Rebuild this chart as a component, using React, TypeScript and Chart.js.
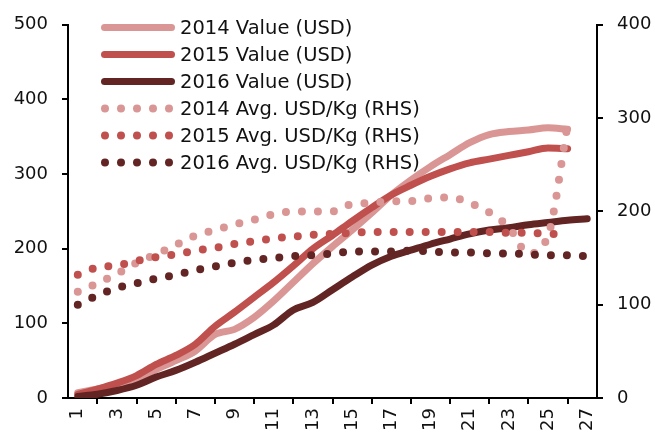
import React, { useEffect, useRef } from 'react';
import { Chart, registerables } from 'chart.js';

Chart.register(...registerables);

const categories = ['1','2','3','4','5','6','7','8','9','10','11','12','13','14','15','16','17','18','19','20','21','22','23','24','25','26','27'];

const value2014 = [7, 12, 18, 25, 38, 50, 63, 85, 92, 108, 130, 155, 180, 203, 225, 248, 272, 292, 310, 326, 342, 353, 357, 359, 362, 360];
const value2015 = [5, 12, 20, 30, 45, 57, 72, 96, 115, 135, 155, 177, 200, 218, 237, 255, 272, 285, 297, 307, 315, 320, 325, 330, 335, 334];
const value2016 = [2, 5, 10, 17, 28, 37, 48, 60, 72, 85, 98, 118, 128, 145, 162, 178, 190, 198, 206, 213, 220, 225, 228, 232, 235, 238, 240];

const avg2014 = [114, 123, 133, 145, 154, 164, 174, 180, 186, 191, 197, 200, 200, 200, 208, 209, 211, 211, 214, 215, 209, 199, 183, 155, 174, 293];
const avg2015 = [132, 140, 142, 147, 151, 154, 158, 161, 165, 168, 171, 173, 175, 176, 177, 178, 178, 178, 178, 178, 178, 178, 177, 177, 176, 175];
const avg2016 = [100, 110, 118, 123, 128, 132, 137, 141, 145, 148, 150, 152, 153, 155, 157, 157, 157, 158, 157, 156, 156, 155, 155, 154, 153, 153, 152];

const seriesLabels = [
  '2014 Value (USD)',
  '2015 Value (USD)',
  '2016 Value (USD)',
  '2014 Avg. USD/Kg (RHS)',
  '2015 Avg. USD/Kg (RHS)',
  '2016 Avg. USD/Kg (RHS)',
];

const leftTicks = [0, 100, 200, 300, 400, 500];
const rightTicks = [0, 100, 200, 300, 400];

const PINK = '#D99694';
const RED = '#C0504D';
const DARK = '#632523';
const FONT = 'DejaVu Sans';

const legendPlugin = {
  id: 'customLegend',
  afterDraw(chart: any) {
    const ctx = chart.ctx;
    chart.data.datasets.forEach((ds: any, i: number) => {
      const y = 27.5 + i * 27;
      ctx.save();
      ctx.strokeStyle = ds.borderColor;
      ctx.lineWidth = ds.borderWidth;
      ctx.lineCap = 'round';
      ctx.beginPath();
      if (ds.borderDash && ds.borderDash.length) {
        ctx.setLineDash(ds.borderDash);
        ctx.moveTo(105, y);
        ctx.lineTo(171, y);
      } else {
        ctx.moveTo(104.5, y);
        ctx.lineTo(171.5, y);
      }
      ctx.stroke();
      ctx.setLineDash([]);
      ctx.fillStyle = '#111';
      ctx.font = `19.5px "${FONT}"`;
      ctx.textBaseline = 'middle';
      ctx.textAlign = 'left';
      ctx.fillText(ds.label, 180, y + 1);
      ctx.restore();
    });
  },
};

export default function App() {
  const ref = useRef<HTMLCanvasElement | null>(null);

  useEffect(() => {
    if (!ref.current) return;
    const mk = (label: string, data: number[], color: string, axis: string, dotted: boolean, order: number) => ({
      label,
      data,
      borderColor: color,
      backgroundColor: color,
      borderWidth: dotted ? 8 : 7,
      borderCapStyle: 'round',
      borderJoinStyle: 'round',
      borderDash: dotted ? [0, 16] : [],
      pointRadius: 0,
      pointHoverRadius: 0,
      cubicInterpolationMode: 'monotone',
      fill: false,
      yAxisID: axis,
      order,
    });
    const chart = new Chart(ref.current, {
      type: 'line',
      data: {
        labels: categories,
        datasets: [
          mk(seriesLabels[0], value2014, PINK, 'y', false, 5),
          mk(seriesLabels[1], value2015, RED, 'y', false, 4),
          mk(seriesLabels[2], value2016, DARK, 'y', false, 3),
          mk(seriesLabels[3], avg2014, PINK, 'y1', true, 2),
          mk(seriesLabels[4], avg2015, RED, 'y1', true, 1),
          mk(seriesLabels[5], avg2016, DARK, 'y1', true, 0),
        ] as any,
      },
      options: {
        animation: false,
        responsive: false,
        devicePixelRatio: 1,
        layout: { padding: { top: 23, left: 0, right: 0, bottom: 0 } },
        plugins: {
          legend: { display: false },
          tooltip: { enabled: false },
        },
        scales: {
          x: {
            type: 'category',
            offset: true,
            grid: {
              display: true,
              drawOnChartArea: false,
              offset: true,
              color: '#000',
              lineWidth: 2,
              tickLength: 6,
            },
            border: { display: true, color: '#000', width: 2 },
            ticks: {
              autoSkip: false,
              maxRotation: 90,
              minRotation: 90,
              color: '#111',
              padding: 4,
              font: { family: FONT, size: 18 },
              callback: (_v: any, i: number) => (i % 2 === 0 ? categories[i] : null),
            },
            afterFit: (s: any) => { s.height = 36; },
          },
          y: {
            position: 'left',
            min: leftTicks[0],
            max: leftTicks[leftTicks.length - 1],
            grid: { drawOnChartArea: false, color: '#000', lineWidth: 2, tickLength: 6 },
            border: { display: true, color: '#000', width: 2 },
            ticks: {
              stepSize: 100,
              color: '#111',
              padding: 14,
              font: { family: FONT, size: 18 },
            },
            afterFit: (s: any) => { s.width = 68; },
          },
          y1: {
            position: 'right',
            min: rightTicks[0],
            max: rightTicks[rightTicks.length - 1],
            grid: { drawOnChartArea: false, color: '#000', lineWidth: 2, tickLength: 6 },
            border: { display: true, color: '#000', width: 2 },
            ticks: {
              stepSize: 100,
              color: '#111',
              padding: 14,
              font: { family: FONT, size: 18 },
            },
            afterFit: (s: any) => { s.width = 58; },
          },
        },
      } as any,
      plugins: [legendPlugin],
    });
    return () => chart.destroy();
  }, []);

  return (
    <div style={{ position: 'absolute', left: 0, top: 0, width: 655, height: 434, background: '#fff' }}>
      <canvas ref={ref} width={655} height={434} style={{ display: 'block', width: 655, height: 434 }} />
    </div>
  );
}
